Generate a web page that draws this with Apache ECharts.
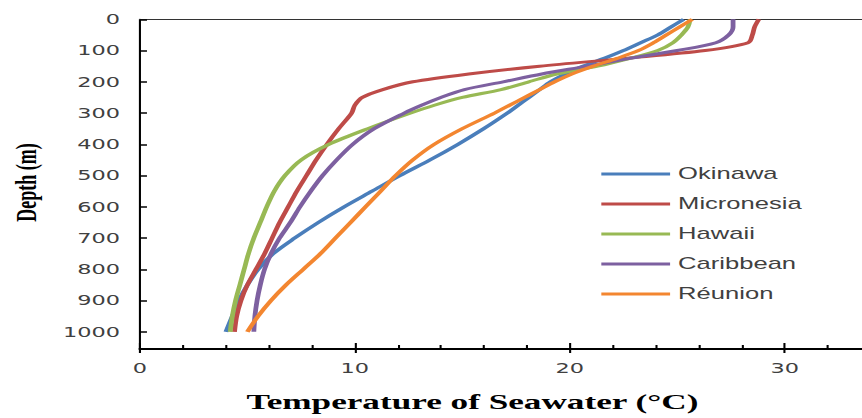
<!DOCTYPE html>
<html><head><meta charset="utf-8">
<script src="https://cdn.jsdelivr.net/npm/echarts@6/dist/echarts.min.js"></script>
<style>
html,body{margin:0;padding:0;background:#fff;width:862px;height:418px;overflow:hidden}
#c{position:absolute;left:0;top:0;width:624.5px;height:418px;transform:scaleX(1.59926);transform-origin:0 0}
</style>
</head><body><div id="c"></div>
<script>
// Depth (m) sampled along each profile
const depths     = [0, 25, 50, 75, 100, 125, 150, 175, 200, 225, 250, 275, 300, 350, 400, 450, 500, 550, 600, 650, 700, 750, 800, 850, 900, 950, 1000];
// Temperature (°C) per location
const okinawa    = [25.3, 24.7, 24.1, 23.3, 22.5, 21.6, 20.6, 19.8, 19.1, 18.6, 18.1, 17.6, 17.1, 16.0, 14.8, 13.5, 12.1, 10.8, 9.5, 8.3, 7.2, 6.2, 5.5, 5.0, 4.6, 4.3, 4.0];
const micronesia = [28.8, 28.6, 28.5, 28.3, 26.3, 22.6, 18.6, 15.3, 12.7, 11.3, 10.35, 10.0, 9.85, 9.25, 8.7, 8.2, 7.75, 7.3, 6.9, 6.5, 6.15, 5.8, 5.4, 5.0, 4.7, 4.5, 4.4];
const hawaii     = [25.6, 25.5, 25.2, 24.8, 24.1, 22.8, 21.3, 19.4, 18.1, 16.8, 15.0, 13.7, 12.6, 10.6, 8.8, 7.5, 6.75, 6.25, 5.9, 5.6, 5.3, 5.05, 4.85, 4.65, 4.45, 4.3, 4.2];
const caribbean  = [27.6, 27.6, 27.4, 26.8, 25.0, 22.8, 20.8, 18.7, 16.9, 15.1, 14.0, 13.1, 12.3, 10.9, 9.9, 9.15, 8.5, 7.95, 7.45, 7.0, 6.5, 6.1, 5.8, 5.6, 5.45, 5.35, 5.3];
const reunion    = [25.7, 25.1, 24.5, 23.9, 23.2, 22.2, 21.1, 20.1, 19.3, 18.6, 17.9, 17.2, 16.5, 15.0, 13.7, 12.7, 11.9, 11.2, 10.5, 9.8, 9.1, 8.4, 7.6, 6.8, 6.1, 5.5, 5.0];

const seriesNames  = ['Okinawa', 'Micronesia', 'Hawaii', 'Caribbean', 'Réunion'];
const seriesValues = [okinawa, micronesia, hawaii, caribbean, reunion];
const colors       = ['#4A7EBB', '#BE4B48', '#98B954', '#7D60A0', '#F38630'];

const xTitle = 'Temperature of Seawater (°C)';
const yTitle = 'Depth (m)';

const chart = echarts.init(document.getElementById('c'), null, {renderer: 'svg'});

const xCommon = {type: 'value', min: 0, max: 40, interval: 10, splitLine: {show: false}};
const plain = v => String(v);

chart.setOption({
  animation: false,
  backgroundColor: '#fff',
  grid: {left: 87.5, right: 0, top: 19.3, bottom: 69},
  legend: {
    orient: 'vertical', left: 371, top: 161,
    icon: 'rect', itemWidth: 43, itemHeight: 3, itemGap: 14,
    textStyle: {fontFamily: 'Liberation Sans', fontSize: 16, color: '#404040'},
    data: seriesNames
  },
  xAxis: [
    Object.assign({}, xCommon, {
      position: 'bottom',
      axisLine: {show: true, onZero: false, lineStyle: {color: '#000', width: 2}},
      axisTick: {show: true, inside: true, length: 6, lineStyle: {color: '#000', width: 1.3}},
      minorTick: {show: true, splitNumber: 5, length: 4, lineStyle: {color: '#000', width: 1.3}},
      axisLabel: {show: true, margin: 12, showMaxLabel: false, formatter: plain, fontFamily: 'DejaVu Sans', fontSize: 14, color: '#404040'}
    }),
    Object.assign({}, xCommon, {
      position: 'top',
      axisLine: {show: true, onZero: false, lineStyle: {color: '#333', width: 1.2}},
      axisTick: {show: false}, axisLabel: {show: false}
    }),
    Object.assign({}, xCommon, {
      position: 'bottom',
      axisLine: {show: false, onZero: false},
      axisTick: {show: true, inside: false, length: 4, lineStyle: {color: '#000', width: 1.3}},
      axisLabel: {show: false}
    })
  ],
  yAxis: {
    type: 'value', inverse: true, min: 0, max: 1055, interval: 100,
    splitLine: {show: false},
    axisLine: {show: true, onZero: false, lineStyle: {color: '#000', width: 1.3}},
    axisTick: {show: true, inside: true, length: 4.4, lineStyle: {color: '#000', width: 1.5}},
    axisLabel: {margin: 12.5, showMaxLabel: false, formatter: plain, fontFamily: 'DejaVu Sans', fontSize: 14, color: '#404040'}
  },
  graphic: [
    {type: 'text', x: 295.4, y: 402,
     style: {text: xTitle, font: 'bold 22px "Liberation Serif"', fill: '#000', textAlign: 'center', textVerticalAlign: 'middle'}},
    {type: 'text', x: 16.7, y: 182.5, rotation: Math.PI / 2,
     style: {text: yTitle, font: 'bold 18px "Liberation Serif"', fill: '#000', textAlign: 'center', textVerticalAlign: 'middle'}}
  ],
  series: seriesNames.map((name, k) => ({
    name: name, type: 'line', xAxisIndex: 0,
    smooth: 0.3, symbol: 'none', showSymbol: false,
    color: colors[k],
    lineStyle: {width: 3, color: colors[k]},
    data: depths.map((d, i) => [seriesValues[k][i], d])
  }))
});
</script>
</body></html>
